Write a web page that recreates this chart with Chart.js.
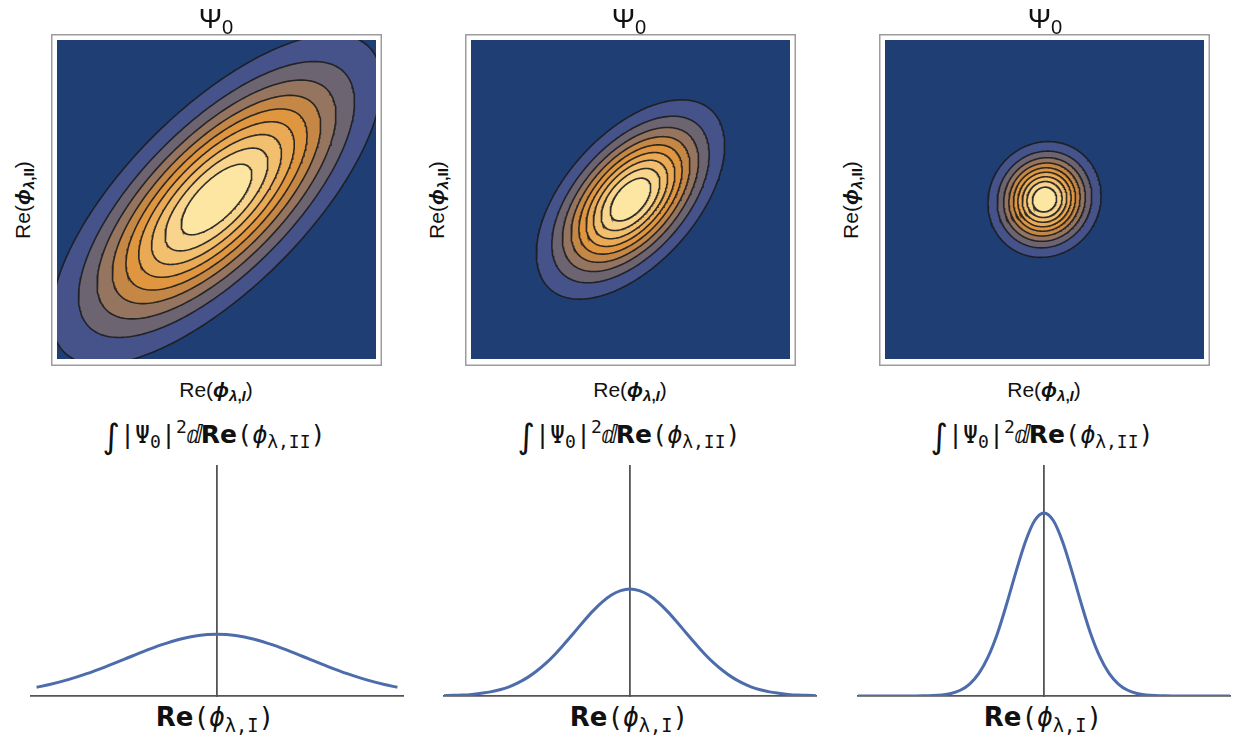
<!DOCTYPE html>
<html>
<head>
<meta charset="utf-8">
<script src="https://cdn.jsdelivr.net/npm/chart.js@4.4.1/dist/chart.umd.min.js"></script>
<style>
  html, body { margin: 0; padding: 0; background: #fff; }
  body { width: 1238px; height: 738px; position: relative; overflow: hidden;
         font-family: "Liberation Sans", Arial, sans-serif; color: #111; }
  canvas { position: absolute; }
  .t { position: absolute; transform: translate(-50%, -50%); white-space: nowrap; line-height: 1; }
  .ttl { font-size: 28px; }
  .lab { font-size: 21px; }
  .rot { transform: translate(-50%, -50%) rotate(-90deg); }
  sub { font-size: 0.72em; vertical-align: -0.3em; line-height: 0; }
  sup { font-size: 0.72em; vertical-align: 0.55em; line-height: 0; }
  .m { font-family: "DejaVu Sans Mono", monospace; font-size: 25px; }
  .s { font-family: "DejaVu Sans", sans-serif; font-weight: bold; }
  .bl { font-size: 26px; }
  .int { font-family: "DejaVu Sans", serif; font-size: 1.35em; vertical-align: -0.15em; }
</style>
</head>
<body>
<canvas id="c1" width="331" height="332" style="left:51px;top:34px"></canvas>
<canvas id="c2" width="331" height="332" style="left:465px;top:34px"></canvas>
<canvas id="c3" width="331" height="332" style="left:879px;top:34px"></canvas>
<canvas id="m1" width="380" height="242" style="left:27px;top:460px"></canvas>
<canvas id="m2" width="380" height="242" style="left:440px;top:460px"></canvas>
<canvas id="m3" width="380" height="242" style="left:854px;top:460px"></canvas>

<div class="t ttl" style="left:216px;top:19px">Ψ<sub>0</sub></div>
<div class="t ttl" style="left:629px;top:19px">Ψ<sub>0</sub></div>
<div class="t ttl" style="left:1045px;top:19px">Ψ<sub>0</sub></div>

<div class="t lab rot" style="left:22px;top:200px">Re(<b><i>ϕ</i></b><sub><b><i>λ</i>,II</b></sub>)</div>
<div class="t lab rot" style="left:436px;top:200px">Re(<b><i>ϕ</i></b><sub><b><i>λ</i>,II</b></sub>)</div>
<div class="t lab rot" style="left:850px;top:200px">Re(<b><i>ϕ</i></b><sub><b><i>λ</i>,II</b></sub>)</div>

<div class="t lab" style="left:216px;top:389px">Re(<b><i>ϕ</i></b><sub><b><i>λ</i>,<i>I</i></b></sub>)</div>
<div class="t lab" style="left:630px;top:389px">Re(<b><i>ϕ</i></b><sub><b><i>λ</i>,<i>I</i></b></sub>)</div>
<div class="t lab" style="left:1044px;top:389px">Re(<b><i>ϕ</i></b><sub><b><i>λ</i>,<i>I</i></b></sub>)</div>

<div class="t m" style="left:214px;top:437px"><span class="int">∫</span>|Ψ<sub>0</sub>|<sup>2</sup>ⅆ<span class="s">Re</span>(<i>ϕ</i><sub>λ,II</sub>)</div>
<div class="t m" style="left:629px;top:437px"><span class="int">∫</span>|Ψ<sub>0</sub>|<sup>2</sup>ⅆ<span class="s">Re</span>(<i>ϕ</i><sub>λ,II</sub>)</div>
<div class="t m" style="left:1042px;top:437px"><span class="int">∫</span>|Ψ<sub>0</sub>|<sup>2</sup>ⅆ<span class="s">Re</span>(<i>ϕ</i><sub>λ,II</sub>)</div>

<div class="t m bl" style="left:215px;top:717px"><span class="s">Re</span>(<i>ϕ</i><sub>λ,I</sub>)</div>
<div class="t m bl" style="left:629px;top:717px"><span class="s">Re</span>(<i>ϕ</i><sub>λ,I</sub>)</div>
<div class="t m bl" style="left:1043px;top:717px"><span class="s">Re</span>(<i>ϕ</i><sub>λ,I</sub>)</div>

<script>
// ---- Contour data: semi-axes of the nine contour lines (outer -> inner), in plot units (half-width = 1)
const contourLevels = [0.1, 0.2, 0.3, 0.4, 0.5, 0.6, 0.7, 0.8, 0.9];
const p1SemiMajor = [1.352, 1.130, 0.978, 0.853, 0.742, 0.637, 0.532, 0.421, 0.289];
const p1SemiMinor = [0.560, 0.468, 0.405, 0.353, 0.307, 0.264, 0.220, 0.174, 0.120];
const p1Angle = 45;
const p2SemiMajor = [0.755, 0.631, 0.546, 0.476, 0.414, 0.356, 0.297, 0.235, 0.162];
const p2SemiMinor = [0.410, 0.343, 0.296, 0.259, 0.225, 0.193, 0.162, 0.128, 0.088];
const p2Angle = 48;
const p3SemiMajor = [0.371, 0.310, 0.268, 0.234, 0.203, 0.175, 0.146, 0.115, 0.079];
const p3SemiMinor = [0.346, 0.289, 0.250, 0.218, 0.190, 0.163, 0.136, 0.108, 0.074];
const p3Angle = 55;

// ---- Marginal distributions (bottom row)
const p1X = [-0.97,-0.9,-0.8,-0.7,-0.6,-0.5,-0.4,-0.3,-0.2,-0.1,0,0.1,0.2,0.3,0.4,0.5,0.6,0.7,0.8,0.9,0.97];
const p1Y = [0.038,0.050,0.071,0.097,0.127,0.159,0.192,0.222,0.247,0.263,0.268,0.263,0.247,0.222,0.192,0.159,0.127,0.097,0.071,0.050,0.038];
const p2X = [-1,-0.95,-0.9,-0.85,-0.8,-0.75,-0.7,-0.65,-0.6,-0.55,-0.5,-0.45,-0.4,-0.35,-0.3,-0.25,-0.2,-0.15,-0.1,-0.05,0,0.05,0.1,0.15,0.2,0.25,0.3,0.35,0.4,0.45,0.5,0.55,0.6,0.65,0.7,0.75,0.8,0.85,0.9,0.95,1];
const p2Y = [0.001,0.003,0.004,0.007,0.012,0.018,0.027,0.040,0.058,0.081,0.110,0.144,0.184,0.229,0.276,0.324,0.369,0.408,0.439,0.458,0.465,0.458,0.439,0.408,0.369,0.324,0.276,0.229,0.184,0.144,0.110,0.081,0.058,0.040,0.027,0.018,0.012,0.007,0.004,0.003,0.001];
const p3X = p2X.slice();
const p3Y = [0,0,0,0,0,0,0.0002,0.0006,0.0017,0.0045,0.011,0.025,0.052,0.098,0.171,0.273,0.402,0.542,0.671,0.763,0.796,0.763,0.671,0.542,0.402,0.273,0.171,0.098,0.052,0.025,0.011,0.0045,0.0017,0.0006,0.0002,0,0,0,0,0,0];

// ---- Styles
const bgBlue = '#1f3e73';
const levelColors = ['#46538b','#6c6470','#967560','#c48746','#e0963e','#eaa954','#f2bf6e','#f8d48c','#fde6a2'];
const contourLine = 'rgba(28,28,30,0.9)';
const curveColor = '#4d6cab';
const axisColor = '#555555';

function ellipse(a, b, deg, n) {
  const th = deg * Math.PI / 180, ct = Math.cos(th), st = Math.sin(th), pts = [];
  for (let i = 0; i <= n; i++) {
    const t = 2 * Math.PI * i / n, c = Math.cos(t), s = Math.sin(t);
    pts.push({ x: a * c * ct - b * s * st, y: a * c * st + b * s * ct });
  }
  return pts;
}

const framePlugin = {
  id: 'frame',
  beforeDatasetsDraw(chart) {
    const { ctx, chartArea: a } = chart;
    ctx.save();
    ctx.fillStyle = bgBlue;
    ctx.fillRect(a.left, a.top, a.right - a.left, a.bottom - a.top);
    ctx.restore();
  },
  afterDraw(chart) {
    const { ctx, width, height } = chart;
    ctx.save();
    ctx.strokeStyle = '#9c9c9c';
    ctx.lineWidth = 1.5;
    ctx.strokeRect(0.75, 0.75, width - 1.5, height - 1.5);
    ctx.restore();
  }
};

function contourChart(id, major, minor, angle) {
  const datasets = [];
  // inner first so that outer ellipses are drawn underneath
  for (let k = major.length - 1; k >= 0; k--) {
    datasets.push({
      label: 'level ' + contourLevels[k],
      data: ellipse(major[k], minor[k], angle, 240),
      backgroundColor: levelColors[k],
      borderColor: contourLine,
      borderWidth: 1.6,
      fill: 'shape',
      showLine: true,
      pointRadius: 0,
      tension: 0,
      clip: 0
    });
  }
  new Chart(document.getElementById(id), {
    type: 'scatter',
    data: { datasets: datasets },
    options: {
      responsive: false, animation: false, events: [],
      layout: { padding: { left: 6, right: 6, top: 6, bottom: 7 } },
      scales: {
        x: { type: 'linear', min: -1, max: 1, display: false },
        y: { type: 'linear', min: -1, max: 1, display: false }
      },
      plugins: { legend: { display: false }, tooltip: { enabled: false }, filler: { drawTime: 'beforeDatasetDraw' } }
    },
    plugins: [framePlugin]
  });
}

function marginalChart(id, xs, ys) {
  new Chart(document.getElementById(id), {
    type: 'line',
    data: { datasets: [{
      data: xs.map((x, i) => ({ x: x, y: ys[i] })),
      borderColor: curveColor, borderWidth: 3, pointRadius: 0,
      cubicInterpolationMode: 'monotone', fill: false
    }] },
    options: {
      responsive: false, animation: false, events: [],
      layout: { padding: { left: 4, right: 4, top: 6, bottom: 6 } },
      scales: {
        x: { type: 'linear', min: -1, max: 1, position: { y: 0 },
             grid: { display: false, drawTicks: false }, ticks: { display: false },
             border: { display: true, color: axisColor, width: 1.8 } },
        y: { type: 'linear', min: 0, max: 1, position: { x: 0 },
             grid: { display: false, drawTicks: false }, ticks: { display: false },
             border: { display: true, color: axisColor, width: 1.8 } }
      },
      plugins: { legend: { display: false }, tooltip: { enabled: false } }
    }
  });
}

contourChart('c1', p1SemiMajor, p1SemiMinor, p1Angle);
contourChart('c2', p2SemiMajor, p2SemiMinor, p2Angle);
contourChart('c3', p3SemiMajor, p3SemiMinor, p3Angle);
marginalChart('m1', p1X, p1Y);
marginalChart('m2', p2X, p2Y);
marginalChart('m3', p3X, p3Y);
</script>
</body>
</html>
